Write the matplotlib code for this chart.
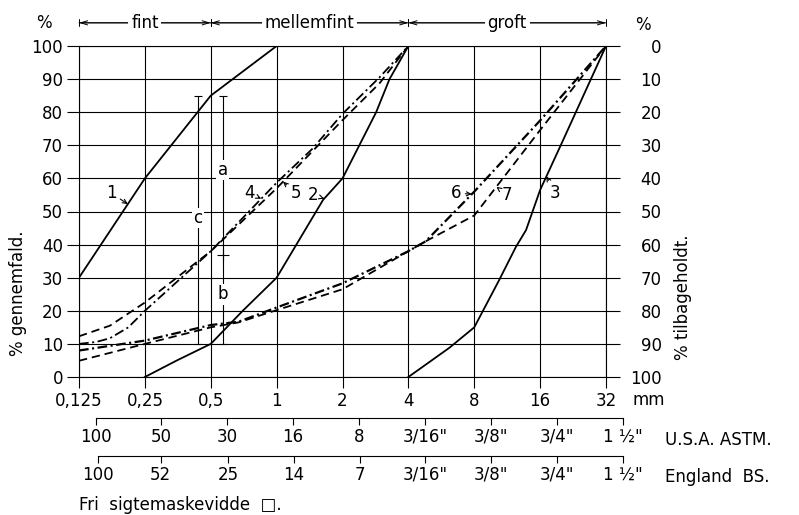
import numpy as np
import matplotlib.pyplot as plt

plt.rcParams['font.family'] = ['DejaVu Sans']
plt.rcParams['lines.scale_dashes'] = False

# sieve openings, mm
sizes = [0.125, 0.25, 0.5, 1, 2, 4, 8, 16, 32]
size_labels = ['0,125', '0,25', '0,5', '1', '2', '4', '8', '16', '32']

# grading curves, % passing per sieve opening (mm)
c1_x = [0.125, 0.25, 0.5, 1]
c1_y = [30, 60, 85, 100]
c2_x = [0.25, 0.35, 0.5, 0.7, 1, 1.63, 2, 2.85, 3.28, 4]
c2_y = [0, 5, 10, 20, 30, 53.5, 60, 80, 90, 100]
c3_x = [4, 6.15, 8, 10.4, 12.4, 13.8, 16, 20.1, 32]
c3_y = [0, 8.8, 15, 29.3, 39.3, 44.4, 56.5, 70.7, 100]
c4_x = [0.125, 0.15, 0.173, 0.21, 0.25, 0.5, 1, 1.46, 2, 2.95, 4]
c4_y = [10, 10.6, 11.7, 15, 20, 38, 58.7, 69, 79.5, 90.5, 100]
c5_x = [0.125, 0.173, 0.25, 0.5, 1, 2, 2.95, 4]
c5_y = [12.3, 15.5, 22.5, 38, 57, 77.6, 88.7, 100]
c6_x = [0.125, 0.25, 0.5, 0.67, 1, 2, 4, 4.8, 8, 16, 32]
c6_y = [8, 11, 15.7, 16.7, 21, 28.3, 38, 41, 56, 77.5, 100]
c7_x = [0.125, 0.25, 0.5, 0.67, 1, 2, 4, 4.8, 8, 16, 32]
c7_y = [4.9, 10, 15, 16.5, 20.2, 26.5, 38, 41, 48.8, 74.6, 100]

# sieve series below the mm scale
astm_mm = [0.149, 0.297, 0.595, 1.19, 2.38, 4.76, 9.52, 19.05, 38.1]
astm_labels = ['100', '50', '30', '16', '8', '3/16"', '3/8"', '3/4"', '1 ½"']
bs_mm = [0.152, 0.295, 0.599, 1.20, 2.41, 4.76, 9.52, 19.05, 38.1]
bs_labels = ['100', '52', '25', '14', '7', '3/16"', '3/8"', '3/4"', '1 ½"']

# fraction ranges along the top
ranges = [(0.125, 0.5, 'fint'), (0.5, 4, 'mellemfint'), (4, 32, 'groft')]

FS = 12
W, H = 799, 515
fig = plt.figure(figsize=(W / 100, H / 100), dpi=100)
L, R, T, B = 79, 606, 46, 377
ax = fig.add_axes([L / W, 1 - B / H, (R - L) / W, (B - T) / H])

ax.set_xscale('log', base=2)
ax.set_xlim(sizes[0], sizes[-1])
ax.set_ylim(0, 100)
ax.set_xticks(sizes)
ax.set_xticklabels(size_labels, fontsize=FS)
ax.xaxis.set_minor_locator(plt.NullLocator())
ax.set_yticks(range(0, 101, 10))
ax.tick_params(axis='y', labelsize=FS, length=8.6, width=0.8, pad=3)
ax.tick_params(axis='x', length=8, width=0.8, pad=3)
ax.grid(True, color='k', lw=0.8)
for s in ax.spines.values():
    s.set_linewidth(0.8)

ax2 = ax.twinx()
ax2.set_ylim(100, 0)
ax2.set_yticks(range(0, 101, 10))
ax2.tick_params(axis='y', labelsize=FS, length=10, width=0.8, pad=30)
for lab in ax2.get_yticklabels():
    lab.set_horizontalalignment('right')
for s in ax2.spines.values():
    s.set_visible(False)

lw = 1.3
dash = (6, 3.5)
dashdot = (7, 2.5, 1.5, 2.5)
ax.plot(c1_x, c1_y, 'k-', lw=lw)
ax.plot(c2_x, c2_y, 'k-', lw=lw)
ax.plot(c3_x, c3_y, 'k-', lw=lw)
ax.plot(c4_x, c4_y, 'k', lw=lw, dashes=dashdot)
ax.plot(c5_x, c5_y, 'k', lw=lw, dashes=dash)
ax.plot(c6_x, c6_y, 'k', lw=lw + 0.3, dashes=dashdot)
ax.plot(c7_x, c7_y, 'k', lw=lw, dashes=dash)


def on_curve(xs, ys, x):
    return np.interp(np.log2(x), np.log2(xs), ys)


# curve numbers with small pointers
labels = [('1', c1_x, c1_y, (0.175, 55.6), 0.209),
          ('4', c4_x, c4_y, (0.75, 55.6), 0.85),
          ('5', c5_x, c5_y, (1.22, 55.5), 1.07),
          ('2', c2_x, c2_y, (1.47, 55.0), 1.65),
          ('6', c6_x, c6_y, (6.6, 55.5), 7.8),
          ('7', c7_x, c7_y, (11.3, 55.0), 10.1),
          ('3', c3_x, c3_y, (18.8, 55.5), 17.1)]
for txt, xs, ys, pos, xt in labels:
    ax.annotate(txt, xy=(xt, on_curve(xs, ys, xt)), xytext=pos,
                fontsize=FS, ha='center', va='center',
                arrowprops=dict(arrowstyle='->,head_length=0.25,head_width=0.12',
                                lw=0.8, color='k', shrinkA=1, shrinkB=0))

# a, b, c spans read at the 0,5 mm sieve
top = on_curve(c1_x, c1_y, 0.5)
mid = on_curve(c4_x, c4_y, 0.5)
bot = on_curve(c2_x, c2_y, 0.5)
xc, xab = 0.436, 0.567
ax.vlines([xc, xab], bot, top, color='k', lw=0.8)
ax.plot([xc, xc, xab, xab], [top, bot, top, bot], 'k_', ms=6, mew=0.8)
ax.plot([xab], [mid - 1.2], 'k+', ms=8, mew=0.8)
box = dict(fc='white', ec='none', pad=1)
ax.text(xc, 48, 'c', fontsize=FS, ha='center', va='center', bbox=box, zorder=5)
ax.text(xab, 62.5, 'a', fontsize=FS, ha='center', va='center', bbox=box, zorder=5)
ax.text(xab, 25, 'b', fontsize=FS, ha='center', va='center', bbox=box, zorder=5)

# fraction ranges above the grid
tr = ax.get_xaxis_transform()
for x0, x1, name in ranges:
    ax.annotate('', xy=(x0, 1.07), xytext=(x1, 1.07), xycoords=tr, textcoords=tr,
                arrowprops=dict(arrowstyle='|-|,widthA=0.25,widthB=0.25',
                                lw=0.7, color='k', shrinkA=0, shrinkB=0))
    ax.annotate('', xy=(x0, 1.07), xytext=(x1, 1.07), xycoords=tr, textcoords=tr,
                arrowprops=dict(arrowstyle='<->,head_length=0.5,head_width=0.15',
                                lw=0.7, color='k', shrinkA=0, shrinkB=0))
    ax.text(np.sqrt(x0 * x1), 1.07, name, transform=tr, fontsize=FS,
            ha='center', va='center', bbox=dict(fc='white', ec='none', pad=2))

# sieve series axes
span_oct = np.log2(40 / sizes[0]) / np.log2(sizes[-1] / sizes[0])
for ypx, mm, labs in [(418, astm_mm, astm_labels), (456, bs_mm, bs_labels)]:
    sa = fig.add_axes([L / W, 1 - ypx / H, (R - L) / W * span_oct, 0.0001])
    sa.set_xscale('log', base=2)
    sa.set_xlim(sizes[0], 40)
    sa.set_xticks(mm)
    sa.set_xticklabels(labs, fontsize=FS)
    sa.xaxis.set_minor_locator(plt.NullLocator())
    sa.set_yticks([])
    sa.tick_params(axis='x', length=5, width=0.8, pad=2)
    for k in ['left', 'right', 'top']:
        sa.spines[k].set_visible(False)
    sa.spines['bottom'].set_bounds(mm[0], mm[-1])
    sa.spines['bottom'].set_linewidth(0.8)
    sa.patch.set_visible(False)

fig.text(665 / W, 1 - 440 / H, 'U.S.A. ASTM.', fontsize=FS, va='center')
fig.text(665 / W, 1 - 477 / H, 'England  BS.', fontsize=FS, va='center')
fig.text(79 / W, 1 - 505 / H, 'Fri  sigtemaskevidde  □.', fontsize=FS, va='center')
fig.text(633 / W, 1 - 400 / H, 'mm', fontsize=FS, va='center')
fig.text(44 / W, 1 - 23 / H, '%', fontsize=FS, ha='center', va='center')
fig.text(643 / W, 1 - 25 / H, '%', fontsize=FS, ha='center', va='center')
fig.text(18 / W, 1 - 293 / H, '% gennemfald.', fontsize=FS, rotation=90,
         ha='center', va='center')
fig.text(683 / W, 1 - 297 / H, '% tilbageholdt.', fontsize=FS, rotation=90,
         ha='center', va='center')

fig.savefig('out.png', dpi=100)
